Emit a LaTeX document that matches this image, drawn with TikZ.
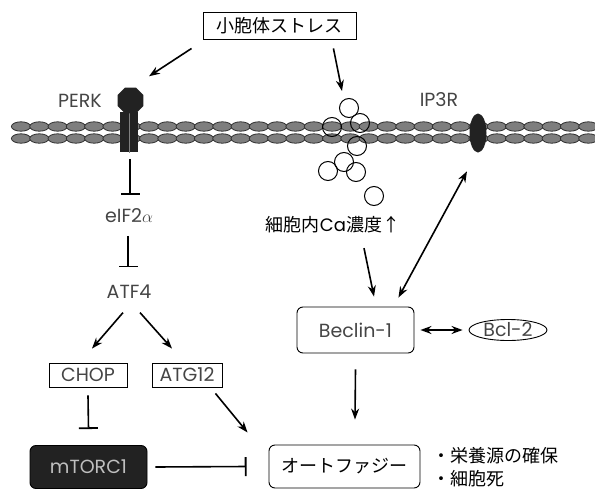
\documentclass[tikz,border=0pt]{standalone}
\usepackage{fontspec}
\setmainfont{Noto Sans CJK JP}
\newfontfamily\geofont{Poppins}
\usepackage{tikz}
\usetikzlibrary{arrows.meta, calc, shapes.geometric}
\definecolor{membranefill}{HTML}{7E7E7E}
\definecolor{membraneline}{HTML}{303030}
\definecolor{proteindark}{HTML}{222222}
\definecolor{labelgray}{HTML}{454545}
\newcommand{\jpsize}{\fontsize{18}{23}\selectfont}
\newcommand{\geosize}{\geofont\fontsize{19}{22}\selectfont}

\begin{document}
\begin{tikzpicture}[x=1pt, y=-1pt, >={Stealth[length=11pt, width=8pt]}, line width=1.6pt,
    genebox/.style={draw, line width=0.9pt, inner sep=0pt, font=\geosize, text=labelgray},
    roundbox/.style={genebox, rounded corners=6pt},
    plainlabel/.style={inner sep=0pt, font=\geosize, text=labelgray},
    inhibit/.style={-{Bar[width=19pt, line width=1.8pt]}},
    vesicle/.style={circle, draw, line width=1pt, minimum size=19pt, inner sep=0pt}]
    \useasboundingbox (0,0) rectangle (595,490);

    % membrane, two rows of lipids
    \foreach \i in {0,...,31} {
        \foreach \row in {126.5,138.5} {
            \filldraw[fill=membranefill, draw=membraneline, line width=0.8pt]
                (21+18.3*\i,\row) ellipse [x radius=9.6pt, y radius=4.7pt];
        }
    }

    % receptors sitting in the membrane
    \node[fill=proteindark, minimum width=18pt, minimum height=40pt, inner sep=0pt] (perk) at (129,132) {};
    \draw[gray, line width=0.5pt] (perk.north) -- (perk.south);
    \node[regular polygon, regular polygon sides=8, fill=proteindark, minimum size=28pt, inner sep=0pt] (perkhead) at (130.5,100.5) {};
    \node[plainlabel] (perklabel) at (80,101) {PERK};
    \node[ellipse, fill=proteindark, minimum width=17pt, minimum height=39pt, inner sep=0pt] (ipthree) at (478,133) {};
    \node[plainlabel] (ipthreelabel) at (439,100) {IP3R};

    % Ca stores
    \foreach \cx/\cy [count=\k] in {349/108, 360/123, 332/127, 357/146, 344/162, 328/171, 356/172, 374/196}
        \node[vesicle] (ves\k) at (\cx,\cy) {};

    % nodes
    \node[draw, line width=0.9pt, minimum width=153pt, minimum height=27pt, font=\jpsize] (stress) at (279.5,25.5) {小胞体ストレス};
    \node[plainlabel] (eif) at (129,216) {eIF2$\alpha$};
    \node[plainlabel] (atf) at (129,292) {ATF4};
    \node[genebox, minimum width=78pt, minimum height=24pt] (chop) at (88,375) {CHOP};
    \node[genebox, minimum width=70pt, minimum height=24pt] (atg) at (187,375) {ATG12};
    \node[roundbox, fill=proteindark, text=black!25, minimum width=117pt, minimum height=43pt] (mtorc) at (88.5,467) {mTORC1};
    \node[inner sep=0pt, font=\jpsize] (cainflux) at (333,225) {細胞内{\geofont Ca}濃度↑};
    \node[roundbox, minimum width=117pt, minimum height=46pt] (beclin) at (355.5,330) {Beclin-1};
    \node[genebox, ellipse, minimum width=78pt, minimum height=21pt] (bcl) at (508,330) {Bcl-2};
    \node[roundbox, text=black, font=\jpsize, minimum width=151pt, minimum height=43pt] (autophagy) at (344.5,466.5) {オートファジー};
    \node[anchor=west, align=left, inner sep=0pt, font=\jpsize] (outcome) at ($(autophagy.east)+(11,1)$) {・栄養源の確保\\・細胞死};

    % connectors
    \draw[->] ($(stress.south west)+(-11,9)$) -- ($(perkhead.north)+(18.5,-10.5)$);
    \draw[->] ($(stress.south east)+(-23,9)$) -- ($(ves1.north)+(-7,-7)$);
    \draw[inhibit] ($(perk.south)+(1,6)$) -- ($(eif.north)+(1,-13)$);
    \draw[inhibit] ($(eif.south)+(-1,12)$) -- ($(atf.north)+(-1,-17)$);
    \draw[->] ($(atf.south)+(-6,13)$) -- ($(chop.north)+(4,-14)$);
    \draw[->] ($(atf.south)+(11,13)$) -- ($(atg.north)+(-15,-14)$);
    \draw[inhibit] ($(chop.south)+(0,8)$) -- ($(mtorc.north)+(0,-16)$);
    \draw[->] ($(atg.south east)+(-7,6)$) -- ($(autophagy.west)+(-21,-34)$);
    \draw[inhibit] ($(mtorc.east)+(8,0)$) -- ($(autophagy.west)+(-22,0)$);
    \draw[->] ($(cainflux.south)+(31,14)$) -- ($(beclin.north)+(18.5,-10)$);
    \draw[<->] ($(beclin.north east)+(-16,-9)$) -- ($(ipthree.south)+(-11,18)$);
    \draw[<->] ($(beclin.east)+(6,0)$) -- ($(bcl.west)+(-6,0)$);
    \draw[->] ($(beclin.south)+(0,16)$) -- ($(autophagy.north)+(10.5,-25)$);
\end{tikzpicture}
\end{document}
